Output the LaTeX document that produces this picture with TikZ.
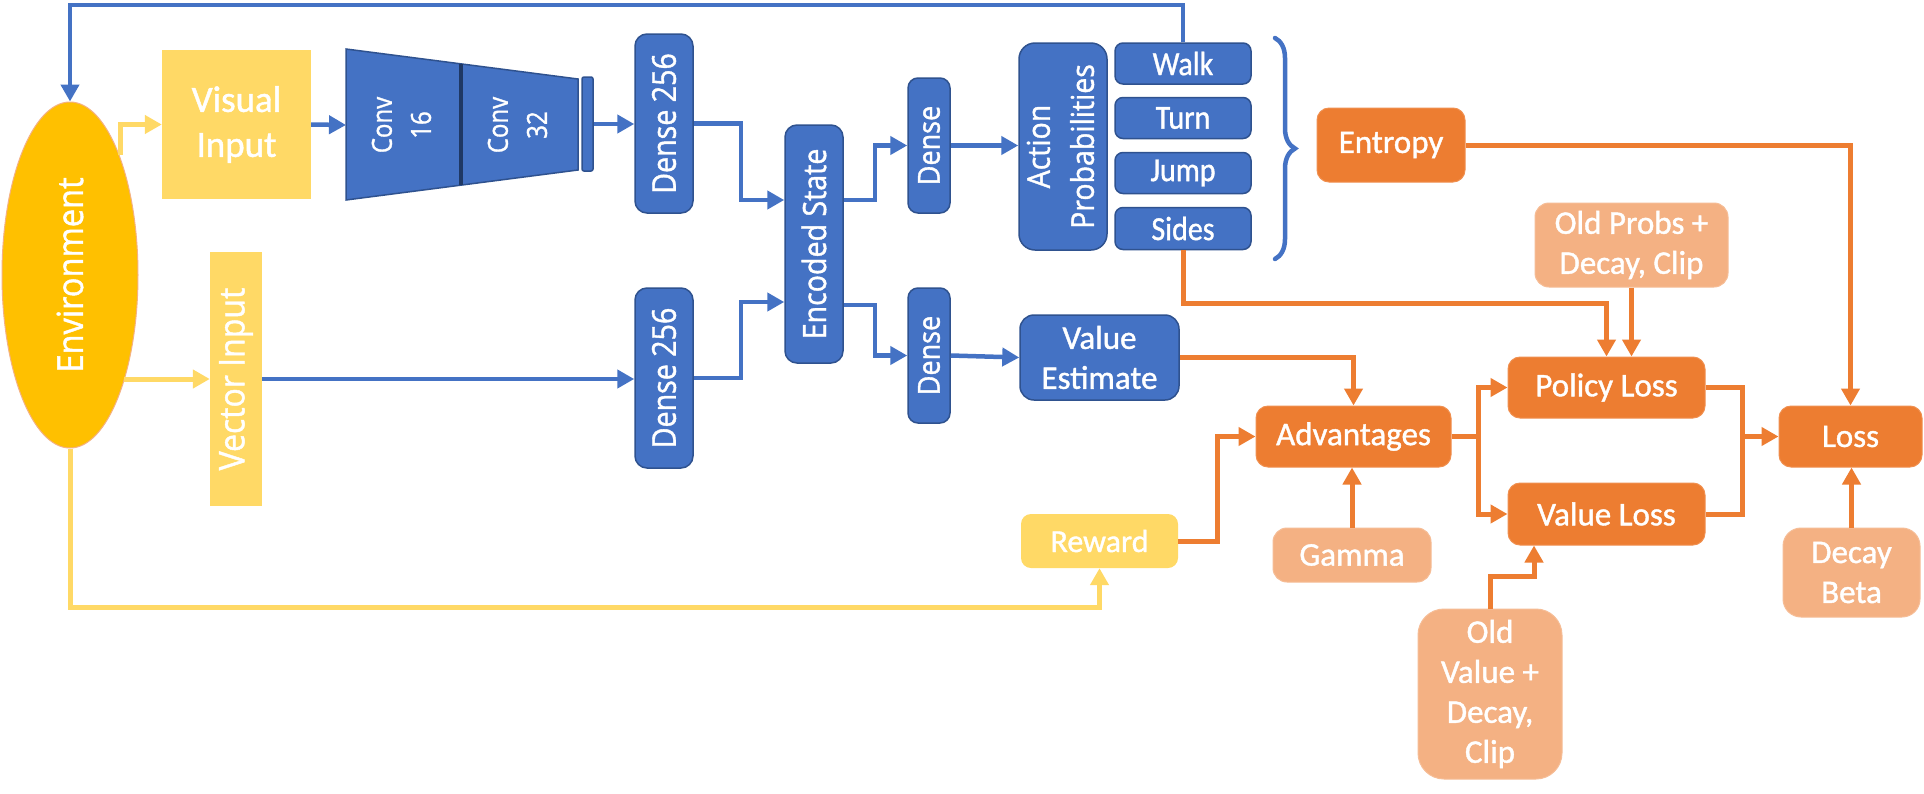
\documentclass[tikz,border=0pt]{standalone}
\usepackage{fontspec}
\usepackage{graphicx}
\usetikzlibrary{arrows.meta,shapes.geometric,decorations.pathreplacing}
\newfontfamily\osans{Open Sans}[FakeBold=1.3]
\newfontfamily\carl{Carlito}[FakeBold=1.2]
\definecolor{mblue}{HTML}{4472C4}
\definecolor{dblue}{HTML}{2F528F}
\definecolor{navy}{HTML}{1F3864}
\definecolor{morange}{HTML}{ED7D31}
\definecolor{lorange}{HTML}{F4B183}
\definecolor{myellow}{HTML}{FFD966}
\definecolor{gold}{HTML}{FFC000}
% rotated one-line text: stretch, size, text
\newcommand{\vt}[3]{\rotatebox{90}{\scalebox{1}[#1]{\osans\fontsize{#2}{#2}\selectfont #3}}}
% rotated two-line text: stretch, size, skip, line1, line2
\newcommand{\vtt}[5]{\rotatebox{90}{\scalebox{1}[#1]{\osans\fontsize{#2}{#3}\selectfont\begin{tabular}{@{}c@{}}#4\\#5\end{tabular}}}}
\tikzset{
  bbox/.style={draw=dblue, line width=1.5pt, fill=mblue, rounded corners=12pt, inner sep=0pt, text=white},
  obox/.style={draw=morange!85!white, line width=1pt, fill=morange, rounded corners=12pt, inner sep=0pt, text=white, align=center, font=\carl\fontsize{33}{40}\selectfont},
  lobox/.style={draw=lorange!85!white, line width=1pt, fill=lorange, rounded corners=14pt, inner sep=0pt, text=white, align=center, font=\carl\fontsize{33}{40}\selectfont},
  ybox/.style={fill=myellow, inner sep=0pt, text=white, align=center},
  tip/.style={-{Triangle[length=17pt,width=18pt]}},
  bline/.style={draw=mblue, line width=4.5pt},
  oline/.style={draw=morange, line width=5pt},
  yline/.style={draw=myellow, line width=5pt},
  barrow/.style={bline, tip},
  oarrow/.style={oline, tip},
  yarrow/.style={yline, tip},
}
\begin{document}
\begin{tikzpicture}[x=1pt, y=-1pt]
\useasboundingbox (0,0) rectangle (1924,793);
\fill[white] (0,0) rectangle (1924,793);

% ---------------- nodes ----------------
\node[ellipse, fill=gold, draw=lorange, line width=1pt, minimum width=136pt, minimum height=346pt, inner sep=0pt, text=white] (env) at (70,275) {\vt{1.1}{32.6}{Environment}};

\node[ybox, minimum width=149pt, minimum height=149pt, font=\carl\fontsize{37}{45}\selectfont] (vis) at (236.5,124.5) {Visual\\Input};
\node[ybox, minimum width=52pt, minimum height=254pt] (vec) at (236,379) {\vt{1.1}{32}{Vector Input}};

% conv block
\draw[fill=mblue, draw=dblue, line width=1.5pt] (346,49) -- (578,79) -- (578,170) -- (346,200) -- cycle;
\draw[draw=navy, line width=4pt] (461,64) -- (461,185);
\coordinate (convin) at (346,125);
\node[inner sep=0pt, text=white] (conv16) at (403.5,125) {\vtt{1.15}{24}{34}{Conv}{16}};
\node[inner sep=0pt, text=white] (conv32) at (519.5,125) {\vtt{1.15}{24}{34}{Conv}{32}};
\node[bbox, rounded corners=2pt, minimum width=11pt, minimum height=94pt] (bar) at (587.5,124) {};

\node[bbox, minimum width=58pt, minimum height=179pt] (dense1) at (664,123.5) {\vt{1.15}{28.6}{Dense 256}};
\node[bbox, minimum width=58pt, minimum height=180pt] (dense2) at (664,378) {\vt{1.15}{28.6}{Dense 256}};
\node[bbox, minimum width=58pt, minimum height=238pt] (enc) at (814,244) {\vt{1.12}{28.6}{Encoded State}};
\node[bbox, rounded corners=10pt, minimum width=42pt, minimum height=135pt] (dup) at (929,145.5) {\vt{1.12}{27}{Dense}};
\node[bbox, rounded corners=10pt, minimum width=42pt, minimum height=135pt] (dlo) at (929,355.5) {\vt{1.12}{27}{Dense}};
\node[bbox, rounded corners=16pt, minimum width=86pt, minimum height=207pt] (act) at (1063,146.5) {\vtt{1.1}{28.5}{40}{Action}{Probabilities}};

\node[bbox, rounded corners=8pt, minimum width=136pt, minimum height=41pt, font=\carl\fontsize{30}{36}\selectfont] (walk) at (1183,63.5) {\scalebox{1}[1.12]{Walk}};
\node[bbox, rounded corners=8pt, minimum width=136pt, minimum height=41pt, font=\carl\fontsize{30}{36}\selectfont] (turn) at (1183,118) {\scalebox{1}[1.12]{Turn}};
\node[bbox, rounded corners=8pt, minimum width=136pt, minimum height=41pt, font=\carl\fontsize{30}{36}\selectfont] (jump) at (1183,173) {\scalebox{1}[1.12]{Jump}};
\node[bbox, rounded corners=8pt, minimum width=136pt, minimum height=42pt, font=\carl\fontsize{30}{36}\selectfont] (sides) at (1183,228.5) {\scalebox{1}[1.12]{Sides}};

\draw[draw=mblue, line width=4.5pt, line cap=round, decorate, decoration={brace, amplitude=20pt}] (1275,38) -- (1275,259);

\node[bbox, rounded corners=14pt, minimum width=159pt, minimum height=85pt, align=center, font=\carl\fontsize{33}{40}\selectfont] (vest) at (1099.5,357.5) {Value\\Estimate};

\node[obox, minimum width=148pt, minimum height=74pt] (entropy) at (1391,145) {Entropy};
\node[lobox, minimum width=193pt, minimum height=84pt] (oldp) at (1631.5,245) {Old Probs +\\Decay, Clip};
\node[obox, minimum width=195pt, minimum height=61pt] (adv) at (1353.5,436.5) {Advantages};
\node[obox, minimum width=197pt, minimum height=61pt] (ploss) at (1606.5,387.5) {Policy Loss};
\node[obox, minimum width=197pt, minimum height=62pt] (vloss) at (1606.5,514) {Value Loss};
\node[obox, minimum width=143pt, minimum height=61pt] (loss) at (1850.5,436.5) {Loss};
\node[ybox, rounded corners=10pt, minimum width=157pt, minimum height=54pt, font=\carl\fontsize{32}{38}\selectfont] (reward) at (1099.5,541) {Reward};
\node[lobox, minimum width=158pt, minimum height=54pt] (gamma) at (1352,555) {Gamma};
\node[lobox, rounded corners=26pt, minimum width=144pt, minimum height=170pt] (oldv) at (1490,694) {Old\\Value +\\Decay,\\Clip};
\node[lobox, rounded corners=18pt, minimum width=137pt, minimum height=89pt] (beta) at (1851.5,572.5) {Decay\\Beta};

% ---------------- connectors ----------------
\coordinate (top) at (0,5);
\coordinate (bot) at (0,607);
\coordinate (ea) at (120,155);
\coordinate (eb) at (124,379);
\coordinate (sidesy) at (0,303);
\coordinate (split) at (1478,436.5);
\coordinate (lin) at (1742,436.5);
\coordinate (ov) at (0,576);

% blue
\draw[barrow] (walk.north) -- (walk.north |- top) -| (env.north);
\draw[barrow] (vis.east) -- (convin);
\draw[barrow] (bar.east) -- (bar.east -| dense1.west);
\draw[barrow] (vec.east) -- (vec.east -| dense2.west);
\draw[barrow] (dense1.east) -- ++(47,0) |- ([yshift=44pt]enc.west);
\draw[barrow] (dense2.east) -- ++(47,0) |- ([yshift=-58pt]enc.west);
\draw[barrow] ([yshift=44pt]enc.east) -- ++(31,0) |- (dup.west);
\draw[barrow] ([yshift=-61pt]enc.east) -- ++(31,0) |- (dlo.west);
\draw[barrow] (dup.east) -- (dup.east -| act.west);
\draw[barrow] (dlo.east) -- (vest.west);

% yellow
\draw[yarrow] (ea) |- (vis.west);
\draw[yarrow] (eb) -- (vec.west);
\draw[yarrow] (env.south) -- (env.south |- bot) -| (reward.south);

% orange
\draw[oarrow] (sides.south) -- (sides.south |- sidesy) -| (ploss.north);
\draw[oarrow] (oldp.south) -- (oldp.south |- ploss.north);
\draw[oarrow] (vest.east) -| (adv.north);
\draw[oarrow] (entropy.east) -| (loss.north);
\draw[oarrow] (reward.east) -- ++(39,0) |- (adv.west);
\draw[oarrow] (gamma.north) -- (gamma.north |- adv.south);
\draw[oline] (adv.east) -- (split);
\draw[oarrow] (split) |- (ploss.west);
\draw[oarrow] (split) |- (vloss.west);
\draw[oline] (ploss.east) -| (lin);
\draw[oline] (vloss.east) -| (lin);
\draw[oarrow] (lin) -- (loss.west);
\draw[oarrow] (oldv.north) -- (oldv.north |- ov) -| ([xshift=-72.5pt]vloss.south);
\draw[oarrow] (beta.north) -- (beta.north |- loss.south);
\end{tikzpicture}
\end{document}
